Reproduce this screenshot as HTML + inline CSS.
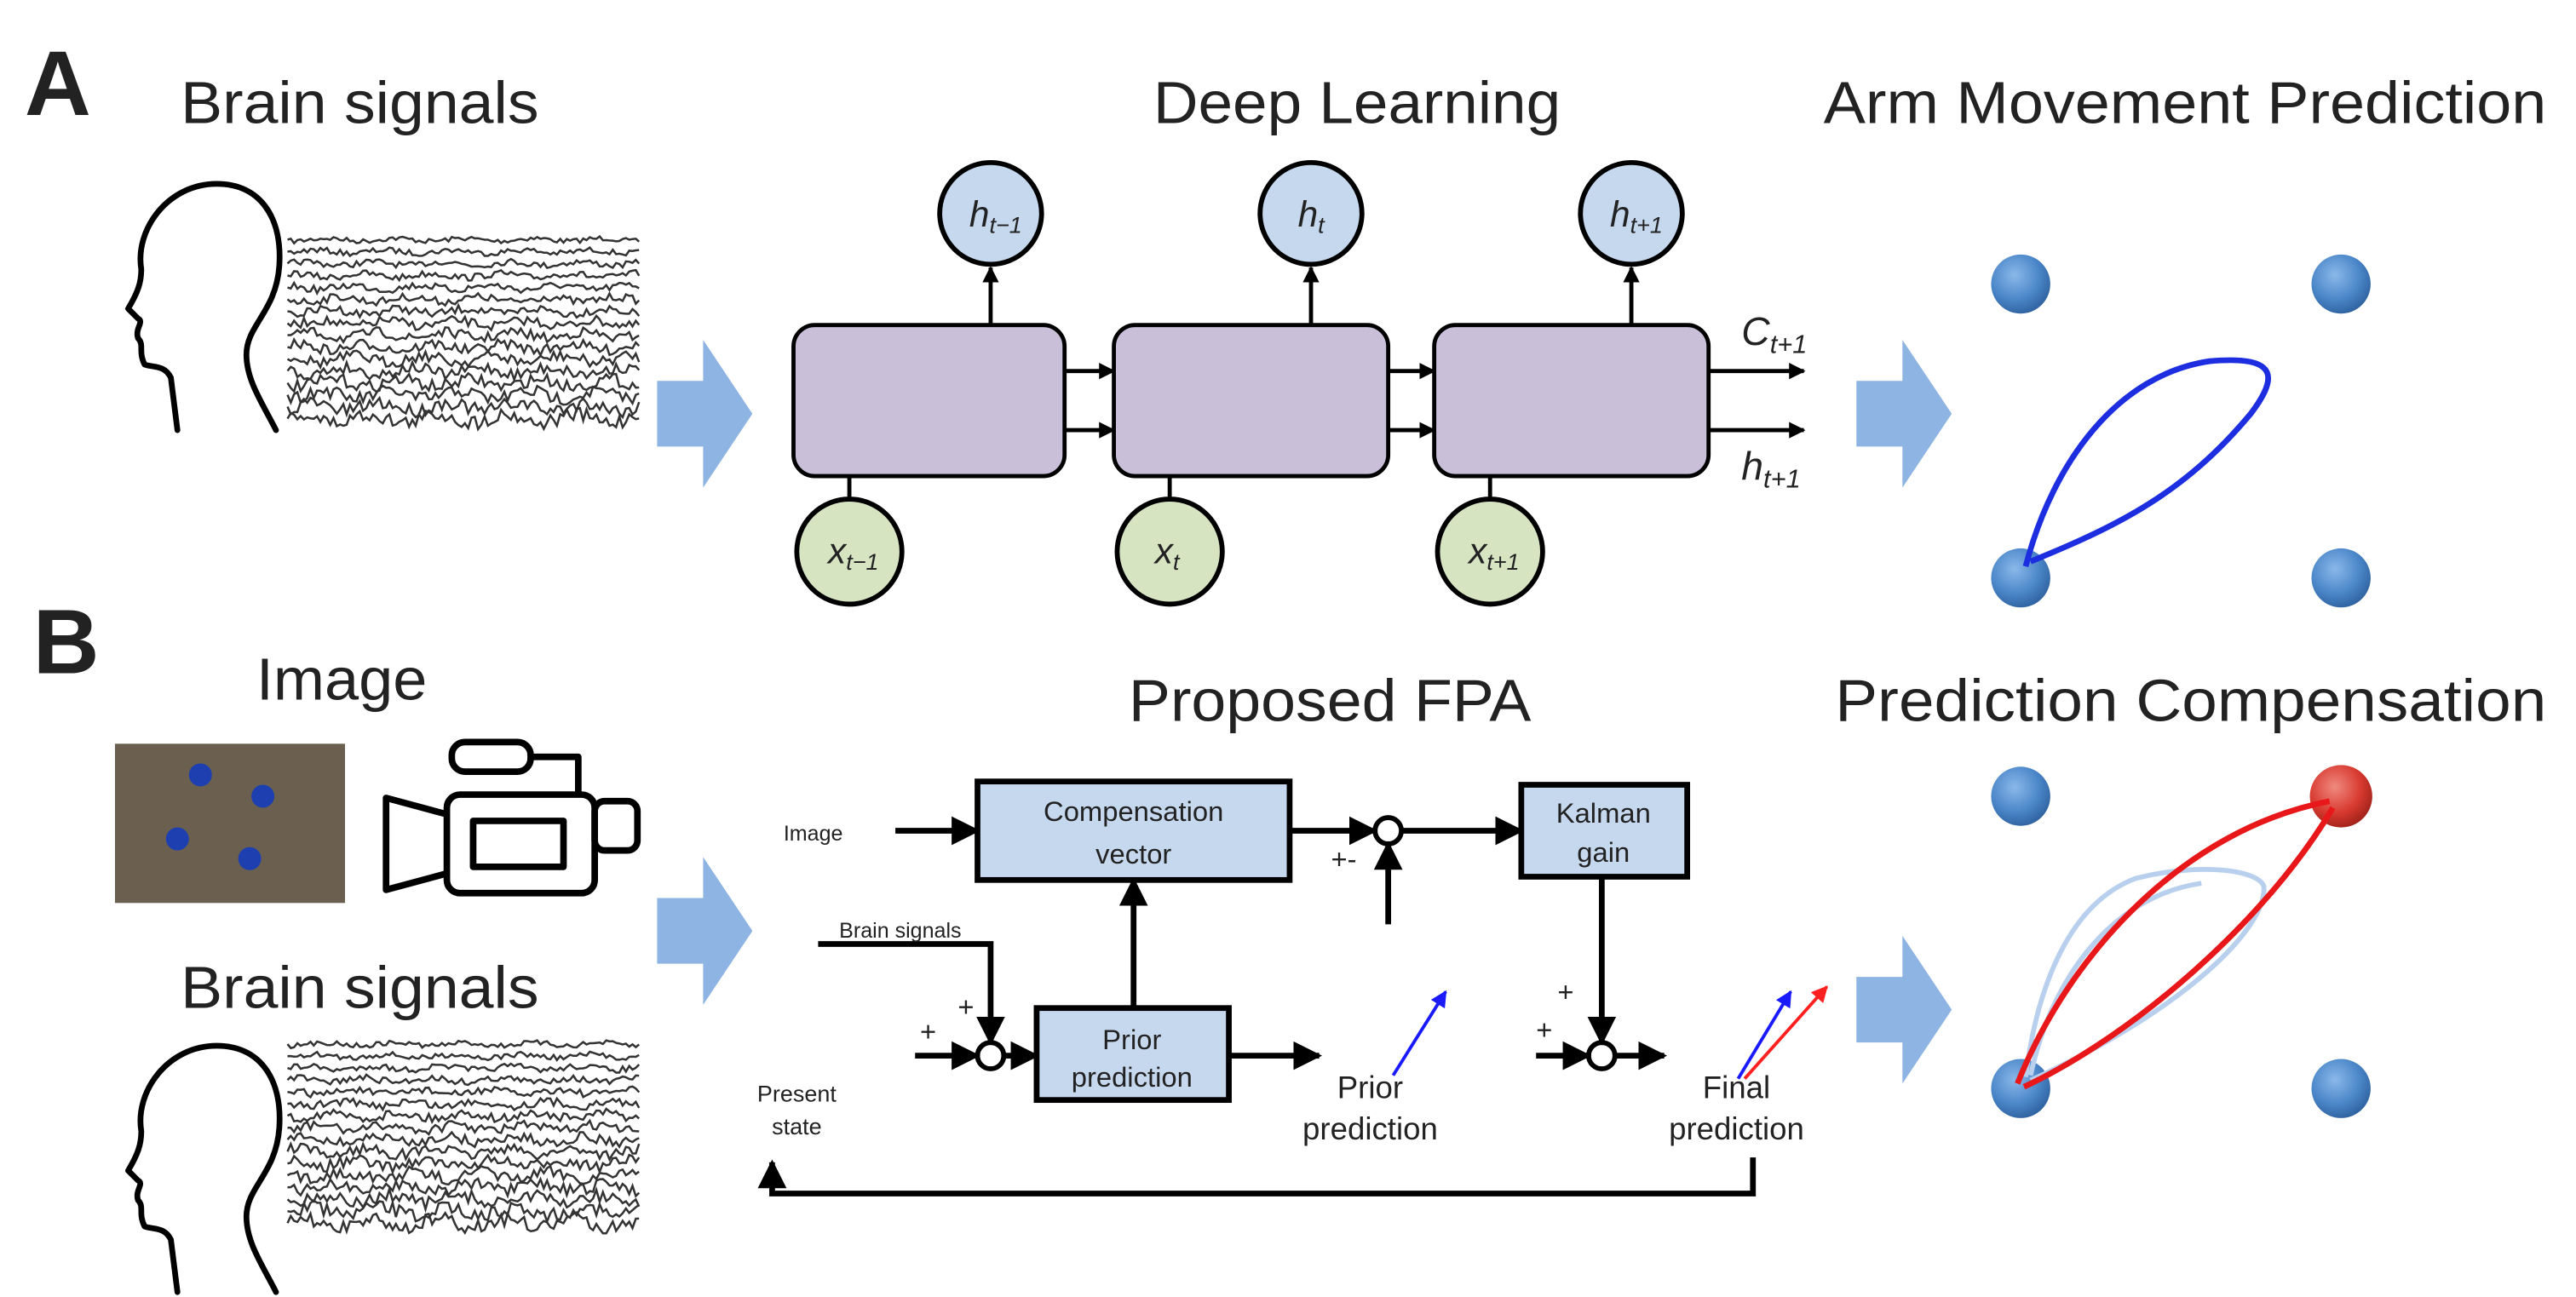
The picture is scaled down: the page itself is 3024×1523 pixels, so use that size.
<!DOCTYPE html>
<html><head><meta charset="utf-8"><style>
html,body{margin:0;padding:0;background:#fff;}
svg{display:block;}
text{font-family:"Liberation Sans",sans-serif;fill:#222;}
</style></head><body>
<svg id="s" width="3024" height="1523" viewBox="0 0 1568 790" preserveAspectRatio="none" xmlns="http://www.w3.org/2000/svg">
<defs>
<radialGradient id="bd" cx="0.4" cy="0.35" r="0.7"><stop offset="0" stop-color="#8bb8ea"/><stop offset="0.6" stop-color="#4a86c8"/><stop offset="1" stop-color="#2d5f9c"/></radialGradient>
<radialGradient id="rd" cx="0.4" cy="0.35" r="0.7"><stop offset="0" stop-color="#f08a80"/><stop offset="0.6" stop-color="#d83a30"/><stop offset="1" stop-color="#9c2018"/></radialGradient>
<marker id="ah" viewBox="0 0 10 10" refX="9" refY="5" markerWidth="4" markerHeight="4" orient="auto"><path d="M0,0L10,5L0,10z" fill="#000"/></marker>
<marker id="ahs" viewBox="0 0 10 10" refX="9" refY="5" markerWidth="5" markerHeight="5" orient="auto"><path d="M0,0L10,5L0,10z" fill="#000"/></marker>
<marker id="ab" viewBox="0 0 10 10" refX="9" refY="5" markerWidth="5" markerHeight="5" orient="auto"><path d="M0,0L10,5L0,10z" fill="#1a1aff"/></marker>
<marker id="ar" viewBox="0 0 10 10" refX="9" refY="5" markerWidth="5" markerHeight="5" orient="auto"><path d="M0,0L10,5L0,10z" fill="#ff2020"/></marker>
</defs>

<text x="15" y="70" font-size="56" font-weight="bold" fill="#111">A</text>
<text x="20" y="410" font-size="56" font-weight="bold" fill="#111">B</text>
<g lengthAdjust="spacingAndGlyphs">
<text x="110" y="75" font-size="36" textLength="218" lengthAdjust="spacingAndGlyphs">Brain signals</text>
<text x="702" y="75" font-size="36" textLength="248" lengthAdjust="spacingAndGlyphs">Deep Learning</text>
<text x="1110" y="75" font-size="36" textLength="440" lengthAdjust="spacingAndGlyphs">Arm Movement Prediction</text>
<text x="156" y="426" font-size="36" textLength="104" lengthAdjust="spacingAndGlyphs">Image</text>
<text x="110" y="614" font-size="36" textLength="218" lengthAdjust="spacingAndGlyphs">Brain signals</text>
<text x="687" y="439" font-size="36" textLength="245" lengthAdjust="spacingAndGlyphs">Proposed FPA</text>
<text x="1117" y="439" font-size="36" textLength="433" lengthAdjust="spacingAndGlyphs">Prediction Compensation</text>
</g>

<g fill="none" stroke="#000" stroke-width="3.5" stroke-linecap="round" stroke-linejoin="round">
<path id="head" d="M108,262 L104,230 C100,222 93,224 88,222 C84,214 88,210 84,206 C82,200 88,196 84,194 L78,188 C84,178 86,172 86,164 C82,140 102,112 132,112 C158,112 172,132 170,162 C168,190 150,198 150,216 C150,232 160,246 168,262"/>
<use href="#head" transform="translate(0,525)"/>
</g>
<g id="eeg1" fill="none" stroke="#333" stroke-width="1.3"></g>
<g id="eeg2" fill="none" stroke="#333" stroke-width="1.3"></g>

<g fill="#8db4e2">
<path d="M400,232 H428 V207 L458,252 L428,297 V272 H400Z"/>
<path d="M1130,232 H1158 V207 L1188,252 L1158,297 V272 H1130Z"/>
<path d="M400,547 H428 V522 L458,567 L428,612 V587 H400Z"/>
<path d="M1130,595 H1158 V570 L1188,615 L1158,660 V635 H1130Z"/>
</g>

<g stroke="#000" stroke-width="2.5">
<rect x="483" y="198" width="165" height="92" rx="13" fill="#c9bfd9"/>
<rect x="678" y="198" width="167" height="92" rx="13" fill="#c9bfd9"/>
<rect x="873" y="198" width="167" height="92" rx="13" fill="#c9bfd9"/>
<circle cx="603" cy="130" r="31" fill="#c5d8ee" stroke-width="3"/>
<circle cx="798" cy="130" r="31" fill="#c5d8ee" stroke-width="3"/>
<circle cx="993" cy="130" r="31" fill="#c5d8ee" stroke-width="3"/>
<circle cx="517" cy="336" r="32" fill="#d7e4c2" stroke-width="3"/>
<circle cx="712" cy="336" r="32" fill="#d7e4c2" stroke-width="3"/>
<circle cx="907" cy="336" r="32" fill="#d7e4c2" stroke-width="3"/>
<g fill="none" stroke-width="2.5" marker-end="url(#ah)">
<line x1="603" y1="198" x2="603" y2="163"/><line x1="798" y1="198" x2="798" y2="163"/><line x1="993" y1="198" x2="993" y2="163"/>
<line x1="648" y1="226" x2="678" y2="226"/><line x1="648" y1="262" x2="678" y2="262"/>
<line x1="845" y1="226" x2="873" y2="226"/><line x1="845" y1="262" x2="873" y2="262"/>
<line x1="1040" y1="226" x2="1098" y2="226"/><line x1="1040" y1="262" x2="1098" y2="262"/>
</g>
<line x1="517" y1="290" x2="517" y2="304"/><line x1="712" y1="290" x2="712" y2="304"/><line x1="907" y1="290" x2="907" y2="304"/>
</g>
<g font-family="Liberation Serif,serif" font-style="italic" fill="#333">
<text x="590" y="138" font-size="22">h<tspan font-size="14" dy="4">t−1</tspan></text>
<text x="790" y="138" font-size="22">h<tspan font-size="14" dy="4">t</tspan></text>
<text x="980" y="138" font-size="22">h<tspan font-size="14" dy="4">t+1</tspan></text>
<text x="504" y="343" font-size="22">x<tspan font-size="14" dy="4">t−1</tspan></text>
<text x="703" y="343" font-size="22">x<tspan font-size="14" dy="4">t</tspan></text>
<text x="894" y="343" font-size="22">x<tspan font-size="14" dy="4">t+1</tspan></text>
<text x="1060" y="210" font-size="24">C<tspan font-size="16" dy="5">t+1</tspan></text>
<text x="1060" y="292" font-size="24">h<tspan font-size="16" dy="5">t+1</tspan></text>
</g>

<circle cx="1230" cy="173" r="18" fill="url(#bd)"/><circle cx="1425" cy="173" r="18" fill="url(#bd)"/>
<circle cx="1230" cy="352" r="18" fill="url(#bd)"/><circle cx="1425" cy="352" r="18" fill="url(#bd)"/>
<path d="M1233,345 C1250,280 1290,228 1345,220 C1390,216 1385,232 1370,252 C1330,300 1290,320 1236,342" fill="none" stroke="#1c2ee0" stroke-width="3.5"/>

<rect x="70" y="453" width="140" height="97" fill="#6b6050"/>
<g fill="#1d3fb0"><circle cx="122" cy="472" r="7"/><circle cx="160" cy="485" r="7"/><circle cx="108" cy="511" r="7"/><circle cx="152" cy="523" r="7"/></g>
<g fill="none" stroke="#000" stroke-width="4" stroke-linejoin="round">
<rect x="275" y="452" width="48" height="18" rx="8"/>
<path d="M323,461 H352 V484"/>
<rect x="272" y="484" width="90" height="60" rx="8"/>
<rect x="288" y="500" width="55" height="28"/>
<path d="M272,496 L235,486 V542 L272,532"/>
<rect x="362" y="488" width="26" height="30" rx="6"/>
</g>

<g stroke="#000" stroke-width="3.5">
<rect x="595" y="476" width="190" height="60" fill="#c5d8ee"/>
<rect x="926" y="478" width="101" height="56" fill="#c5d8ee"/>
<rect x="631" y="614" width="117" height="56" fill="#c5d8ee"/>
<circle cx="845" cy="506" r="8" fill="#fff" stroke-width="3"/>
<circle cx="603" cy="643" r="8" fill="#fff" stroke-width="3"/>
<circle cx="975" cy="643" r="8" fill="#fff" stroke-width="3"/>
<g fill="none" marker-end="url(#ahs)" stroke-width="3.5">
<line x1="545" y1="506" x2="595" y2="506"/>
<line x1="785" y1="506" x2="837" y2="506"/>
<line x1="853" y1="506" x2="926" y2="506"/>
<line x1="845" y1="563" x2="845" y2="514"/>
<line x1="690" y1="614" x2="690" y2="536"/>
<polyline points="498,575 603,575 603,635"/>
<line x1="557" y1="643" x2="595" y2="643"/>
<line x1="611" y1="643" x2="631" y2="643"/>
<line x1="748" y1="643" x2="803" y2="643"/>
<line x1="975" y1="534" x2="975" y2="635"/>
<line x1="935" y1="643" x2="967" y2="643"/>
<line x1="983" y1="643" x2="1013" y2="643"/>
<polyline points="1067,705 1067,727 470,727 470,708"/>
</g>
</g>
<line x1="848" y1="655" x2="880" y2="604" stroke="#1a1aff" stroke-width="2" marker-end="url(#ab)"/>
<line x1="1058" y1="657" x2="1090" y2="604" stroke="#1a1aff" stroke-width="2" marker-end="url(#ab)"/>
<line x1="1062" y1="657" x2="1112" y2="601" stroke="#ff2020" stroke-width="2" marker-end="url(#ar)"/>
<g font-size="17" fill="#222" text-anchor="middle">
<text x="690" y="500">Compensation</text>
<text x="690" y="526">vector</text>
<text x="976" y="501">Kalman</text>
<text x="976" y="525">gain</text>
<text x="689" y="639">Prior</text>
<text x="689" y="662">prediction</text>
<text x="834" y="669" font-size="19">Prior</text>
<text x="834" y="694" font-size="19">prediction</text>
<text x="1057" y="669" font-size="19">Final</text>
<text x="1057" y="694" font-size="19">prediction</text>
<text x="495" y="512" font-size="13">Image</text>
<text x="548" y="571" font-size="13">Brain signals</text>
<text x="485" y="671" font-size="14">Present</text>
<text x="485" y="691" font-size="14">state</text>
<text x="565" y="634">+</text><text x="588" y="619">+</text>
<text x="953" y="610">+</text><text x="940" y="633">+</text>
<text x="818" y="529">+-</text>
</g>

<circle cx="1230" cy="485" r="18" fill="url(#bd)"/><circle cx="1425" cy="485" r="19" fill="url(#rd)"/>
<circle cx="1230" cy="663" r="18" fill="url(#bd)"/><circle cx="1425" cy="663" r="18" fill="url(#bd)"/>
<g fill="none" stroke="#b8d0ee" stroke-width="3">
<path d="M1233,656 C1240,600 1260,550 1300,535 C1340,525 1375,530 1378,540 C1380,565 1330,615 1236,658"/>
<path d="M1236,655 C1250,590 1290,545 1340,538"/>
</g>
<g fill="none" stroke="#e8181a" stroke-width="3.5">
<path d="M1228,660 C1260,580 1330,505 1418,488"/>
<path d="M1232,662 C1300,630 1380,560 1420,492"/>
</g>
</svg>
<script>
(function(){
var NS="http://www.w3.org/2000/svg";
var seed=7;function r(){seed=(seed*16807)%2147483647;return seed/2147483647;}
function draw(id,y0,y1,n){var g=document.getElementById(id);
for(var i=0;i<n;i++){var y=y0+(y1-y0)*i/(n-1);var d='M175,'+y.toFixed(1);var amp=1.5+3*(i/n);
for(var x=177;x<=390;x+=2){d+=' L'+x+','+(y+(r()-0.5)*2*amp+Math.sin(x*0.15+i)*amp*0.6).toFixed(1);}
var p=document.createElementNS(NS,'path');p.setAttribute('d',d);g.appendChild(p);}
}
draw('eeg1',146,255,16);draw('eeg2',636,745,16);
})();
</script>
</body></html>
